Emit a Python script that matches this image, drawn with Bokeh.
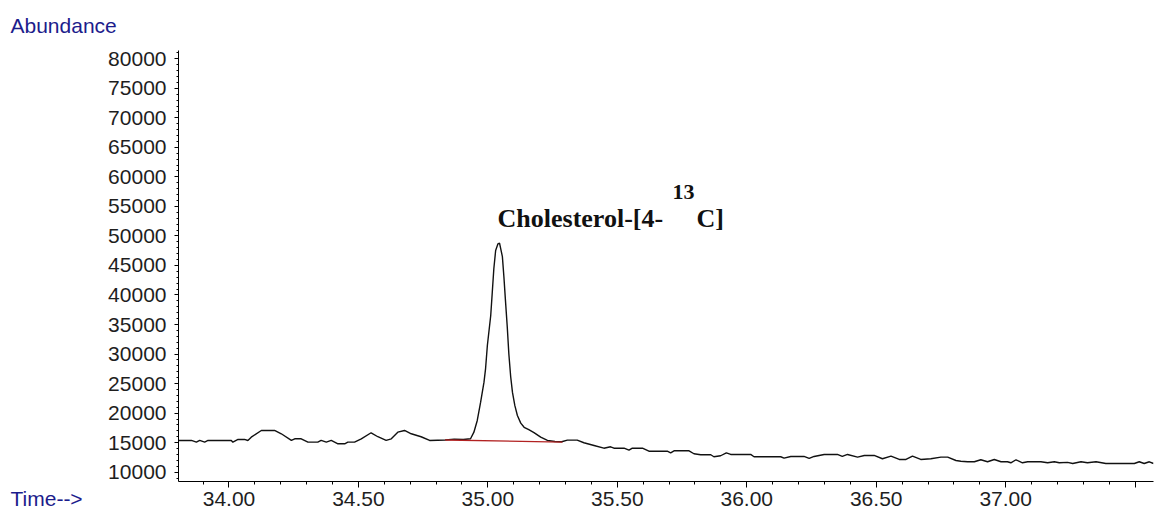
from bokeh.plotting import figure
from bokeh.models import FixedTicker, PrintfTickFormatter, Range1d, Label, Title
from bokeh.embed import file_html
from bokeh.resources import INLINE

# ---- data ----
time_min = [
    33.805, 33.855, 33.874, 33.887, 33.906, 33.919, 34.009, 34.015, 34.035, 34.060,
    34.073, 34.086, 34.125, 34.176, 34.202, 34.241, 34.254, 34.279, 34.305, 34.343,
    34.356, 34.376, 34.395, 34.421, 34.447, 34.459, 34.485, 34.511, 34.549, 34.575,
    34.607, 34.627, 34.652, 34.678, 34.704, 34.742, 34.775, 34.835, 34.870, 34.905,
    34.933, 34.946, 34.959, 34.972, 34.985, 34.991, 34.998, 35.011, 35.017, 35.023,
    35.030, 35.039, 35.045, 35.056, 35.062, 35.068, 35.075, 35.081, 35.088, 35.095,
    35.104, 35.114, 35.127, 35.140, 35.158, 35.178, 35.204, 35.230, 35.259, 35.285,
    35.307, 35.345, 35.371, 35.410, 35.448, 35.474, 35.487, 35.526, 35.545, 35.558,
    35.597, 35.622, 35.693, 35.706, 35.719, 35.777, 35.796, 35.822, 35.861, 35.873,
    35.899, 35.921, 35.938, 36.015, 36.028, 36.131, 36.144, 36.170, 36.221, 36.241,
    36.260, 36.299, 36.350, 36.369, 36.389, 36.428, 36.454, 36.492, 36.524, 36.557,
    36.589, 36.615, 36.640, 36.672, 36.711, 36.750, 36.776, 36.808, 36.827, 36.853,
    36.879, 36.904, 36.930, 36.956, 36.982, 37.007, 37.020, 37.040, 37.065, 37.085,
    37.136, 37.162, 37.188, 37.207, 37.239, 37.259, 37.291, 37.316, 37.349, 37.387,
    37.497, 37.516, 37.535, 37.555, 37.571,
]
abundance = [
    15370, 15370, 15080, 15370, 15080, 15370, 15370, 15080, 15540, 15540,
    15370, 15930, 17060, 17060, 16500, 15370, 15650, 15650, 15080, 15080,
    15370, 15080, 15370, 14810, 14810, 15080, 15080, 15650, 16670, 16000,
    15370, 15650, 16770, 17060, 16500, 16000, 15370, 15450, 15600, 15540,
    15650, 16770, 18750, 21850, 25240, 27500, 31450, 36530, 40470, 44440,
    47530, 48670, 48800, 46500, 43000, 39000, 34500, 30000, 26200, 23500,
    21300, 19600, 18300, 17600, 17200, 16700, 15930, 15370, 15200, 15150,
    15420, 15420, 14980, 14520, 14060, 14300, 14060, 14060, 13720, 14060,
    14060, 13550, 13550, 13280, 13620, 13620, 13120, 12950, 12950, 12610,
    12780, 13280, 13000, 13000, 12610, 12610, 12370, 12660, 12660, 12320,
    12660, 13000, 13000, 12660, 13000, 12540, 12830, 12830, 12270, 12710,
    12150, 12150, 12710, 12150, 12270, 12540, 12540, 11980, 11860, 11760,
    11760, 12100, 11760, 12150, 11760, 11760, 11590, 12100, 11590, 11760,
    11760, 11590, 11760, 11590, 11650, 11470, 11760, 11590, 11760, 11470,
    11470, 11760, 11470, 11760, 11470,
]
baseline_time = [34.835, 35.288]
baseline_abund = [15450, 15080]

peak_label = "Cholesterol-[4-"
peak_sup = "13"
peak_tail = "C]"
y_title = "Abundance"
x_title = "Time-->"

x_major = [34.0, 34.5, 35.0, 35.5, 36.0, 36.5, 37.0, 37.5]
x_minor = [round(33.9 + 0.1 * i, 1) for i in range(37)]
y_major = [10000, 15000, 20000, 25000, 30000, 35000, 40000, 45000,
           50000, 55000, 60000, 65000, 70000, 75000, 80000]
y_minor = list(range(9000, 81001, 1000))

x_start, x_end = 33.805, 37.571
y_start, y_end = 8420, 81400

BLUE = "#1c1c8c"
TXT = "#1e1e1e"

p = figure(width=1165, height=512, output_backend="svg", toolbar_location=None,
           x_range=Range1d(x_start, x_end), y_range=Range1d(y_start, y_end),
           min_border_left=178, min_border_right=12, min_border_top=50,
           min_border_bottom=31)
p.outline_line_color = None
p.xgrid.visible = False
p.ygrid.visible = False
p.background_fill_color = "white"
p.border_fill_color = "white"

p.line(time_min, abundance, line_color="#111111", line_width=1.4)
p.line(baseline_time, baseline_abund, line_color="#b22222", line_width=1.3)

# axes
xa = p.xaxis[0]
xa.ticker = FixedTicker(ticks=x_major, minor_ticks=x_minor)
xa.formatter = PrintfTickFormatter(format="%.2f")
xa.major_label_overrides = {37.5: ""}
xa.major_tick_out = 6
xa.major_tick_in = 0
xa.minor_tick_out = 3
xa.minor_tick_in = 0
xa.major_label_standoff = 4
xa.axis_line_color = "black"
xa.major_tick_line_color = "black"
xa.minor_tick_line_color = "black"
xa.major_label_text_font = "Liberation Sans"
xa.major_label_text_font_size = "21px"
xa.major_label_text_color = TXT

ya = p.yaxis[0]
ya.ticker = FixedTicker(ticks=y_major, minor_ticks=y_minor)
ya.formatter = PrintfTickFormatter(format="%d")
ya.major_tick_out = 4
ya.major_tick_in = 0
ya.minor_tick_out = 2
ya.minor_tick_in = 0
ya.major_label_standoff = 8
ya.axis_line_color = "black"
ya.major_tick_line_color = "black"
ya.minor_tick_line_color = "black"
ya.major_label_text_font = "Liberation Sans"
ya.major_label_text_font_size = "21px"
ya.major_label_text_color = TXT

# corner captions
p.add_layout(Title(text=y_title, align="left", vertical_align="top", offset=-168,
                   standoff=24, text_font="Liberation Sans", text_font_size="21px",
                   text_font_style="normal", text_color=BLUE), "above")
p.add_layout(Title(text=x_title, align="left", vertical_align="top", offset=-168,
                   standoff=-44, text_font="Liberation Sans", text_font_size="21px",
                   text_font_style="normal", text_color=BLUE), "below")

# peak annotation anchored at apex
i_peak = max(range(len(abundance)), key=lambda i: abundance[i])
pk_t, pk_v = time_min[i_peak], abundance[i_peak]
for txt, dx, dy, fs in [(peak_label, -2, 25, "26px"), (peak_sup, 173, 51, "22px"),
                        (peak_tail, 197, 25, "26px")]:
    p.add_layout(Label(x=pk_t, y=pk_v, x_offset=dx, y_offset=dy, text=txt,
                       text_font="Liberation Serif", text_font_style="bold",
                       text_font_size=fs, text_color="#111111",
                       text_baseline="alphabetic"))

open("out.html", "w").write(file_html(p, INLINE))
